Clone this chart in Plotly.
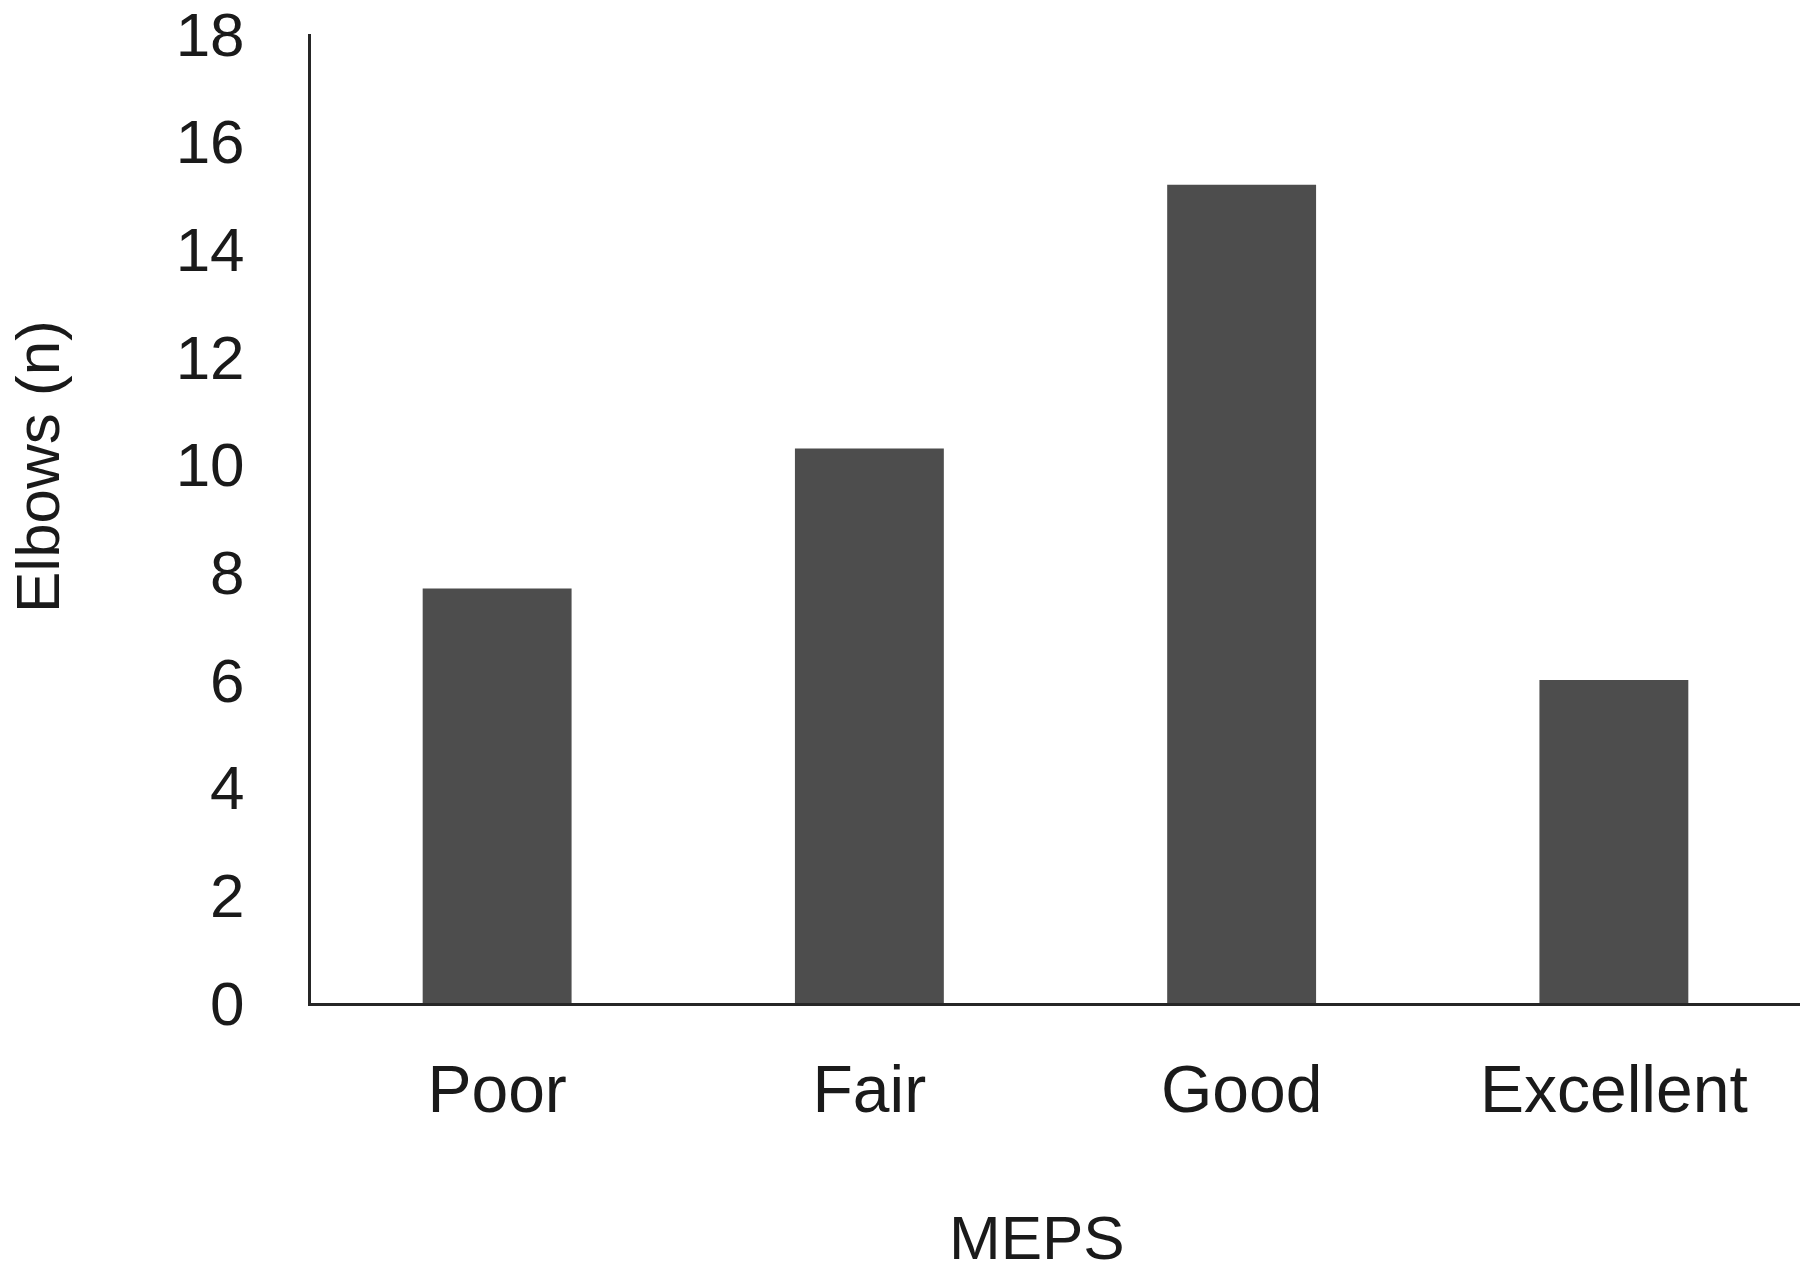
import plotly.graph_objects as go

categories = ["Poor", "Fair", "Good", "Excellent"]
elbows = [7.7, 10.3, 15.2, 6.0]
y_ticks = [0, 2, 4, 6, 8, 10, 12, 14, 16, 18]

FONT = "Liberation Sans, Arial, sans-serif"
TXT = "#1a1a1a"

fig = go.Figure(go.Bar(x=categories, y=elbows, marker=dict(color="#4d4d4d", line=dict(width=0))))

W, H = 1800, 1277
L, R, T, B = 311, 0, 34, 274
fig.update_layout(
    width=W, height=H,
    margin=dict(l=L, r=R, t=T, b=B),
    plot_bgcolor="white", paper_bgcolor="white",
    bargap=0.6, showlegend=False,
    font=dict(family=FONT, color=TXT),
)
fig.update_xaxes(
    showline=True, linecolor="#262626", linewidth=3, showgrid=False, ticks="",
    tickfont=dict(size=66, family=FONT, color=TXT), ticklabelstandoff=27,
    ticklabeloverflow="allow",
)
fig.update_yaxes(
    range=[0, 18.0001], tickvals=y_ticks, showline=True, linecolor="#262626", linewidth=3,
    showgrid=False, zeroline=False, ticks="",
    tickfont=dict(size=62, family=FONT, color=TXT), ticklabelstandoff=51,
    ticklabeloverflow="allow",
)
pw = W - L - R
ph = H - T - B
fig.add_annotation(text="Elbows (n)", xref="paper", yref="paper",
                   x=(37 - L) / pw, y=(H - B - 467) / ph, textangle=-90,
                   showarrow=False, xanchor="center", yanchor="middle",
                   font=dict(size=62, family=FONT, color=TXT))
fig.add_annotation(text="MEPS", xref="paper", yref="paper",
                   x=(1037 - L) / pw, y=(H - B - 1237) / ph,
                   showarrow=False, xanchor="center", yanchor="middle",
                   font=dict(size=62, family=FONT, color=TXT))

fig.write_html("out.html")
